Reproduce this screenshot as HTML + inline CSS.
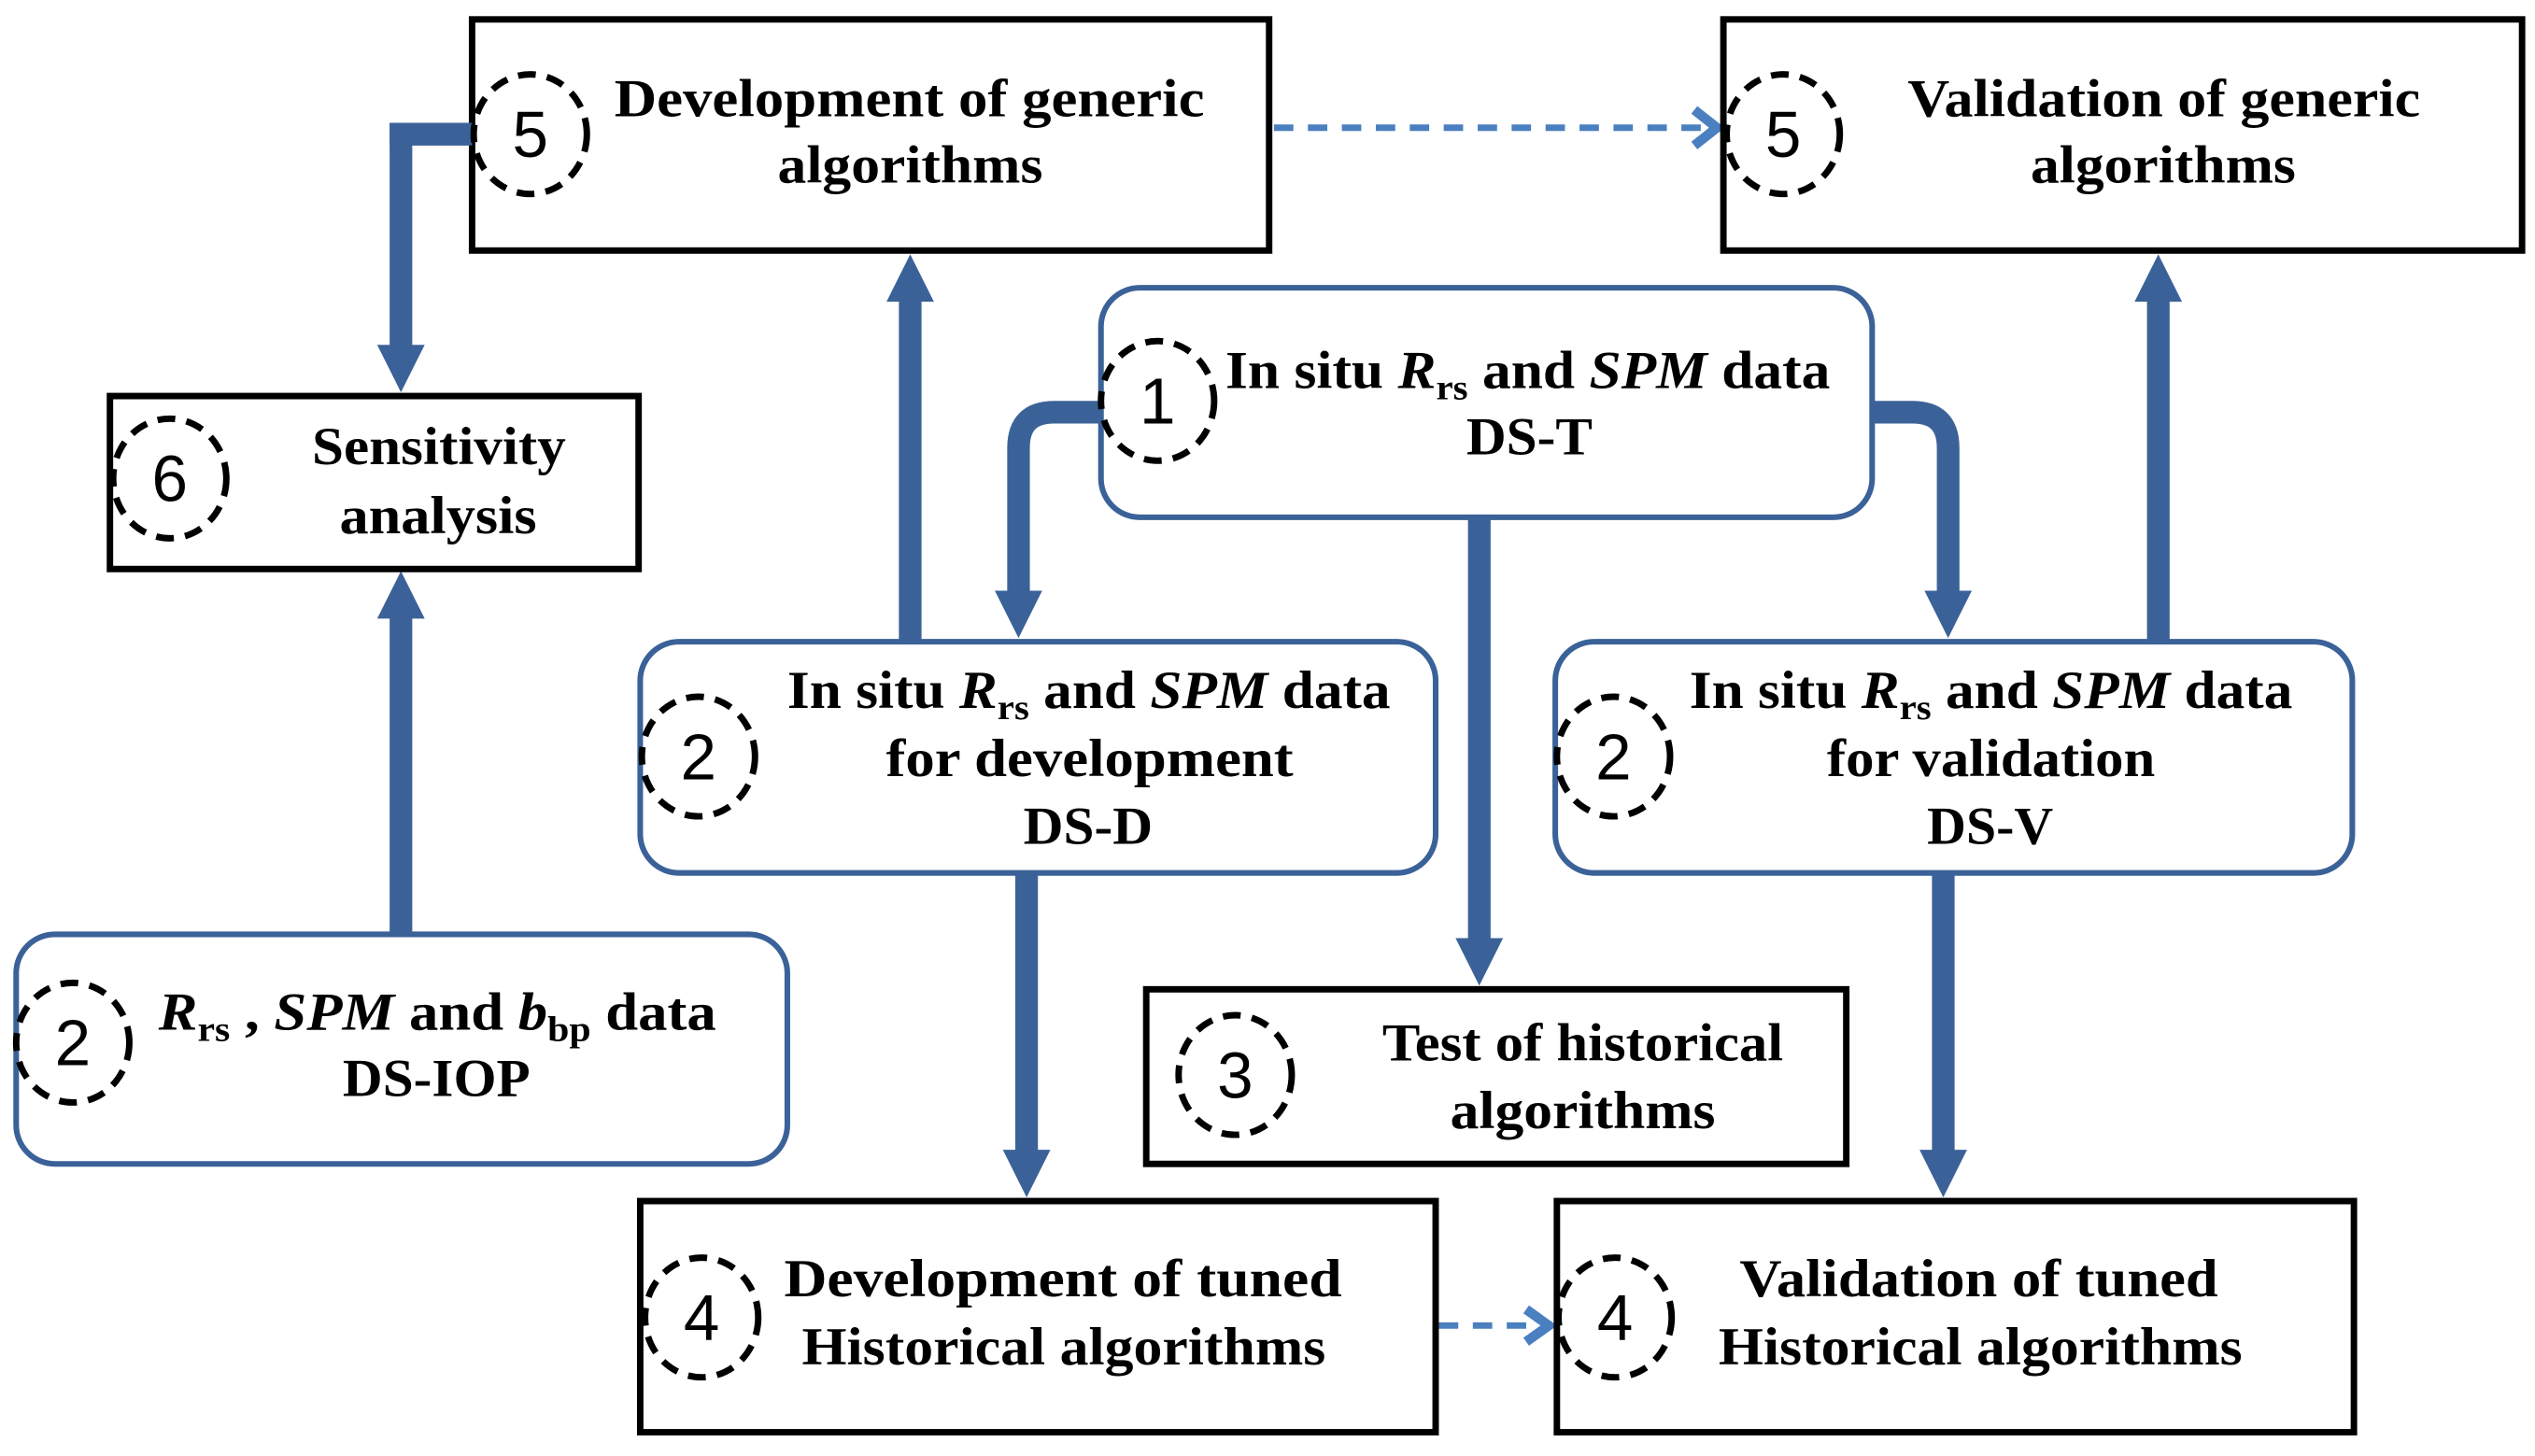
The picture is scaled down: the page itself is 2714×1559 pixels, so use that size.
<!DOCTYPE html>
<html><head><meta charset="utf-8"><style>
html,body{margin:0;padding:0;background:#fff;}
svg{display:block;}
text{font-family:"Liberation Serif",serif;font-weight:bold;font-size:33px;fill:#000;}
.n{font-family:"Liberation Sans",sans-serif;font-weight:normal;font-size:40px;}
.i{font-style:italic;}
.s{font-size:22px;}
</style></head><body>
<svg width="2714" height="1559" viewBox="0 0 1568 900.7" preserveAspectRatio="none" xmlns="http://www.w3.org/2000/svg">
<defs>
<marker id="ah" viewBox="0 0 10 10" refX="5" refY="5" markerWidth="2.1" markerHeight="2.1" orient="auto" markerUnits="strokeWidth">
<path d="M0,0 L10,5 L0,10 Z" fill="#3b6298"/>
</marker>
</defs>
<g fill="none" stroke="#3b6298" stroke-width="14">
<path d="M295,83 H248 V228" marker-end="url(#ah)" stroke-linejoin="miter"/>
<path d="M248,578 V368" marker-end="url(#ah)"/>
<path d="M563,397 V172" marker-end="url(#ah)"/>
<path d="M684,255 H652 Q630,255 630,277 V380" marker-end="url(#ah)"/>
<path d="M1155,255 H1183 Q1205,255 1205,277 V380" marker-end="url(#ah)"/>
<path d="M1335,397 V172" marker-end="url(#ah)"/>
<path d="M915,320 V595" marker-end="url(#ah)"/>
<path d="M635,540 V726" marker-end="url(#ah)"/>
<path d="M1202,540 V726" marker-end="url(#ah)"/>
</g>
<g fill="none" stroke="#4a80c0" stroke-width="4">
<path d="M788,79 H1058" stroke-dasharray="12,9"/>
<path d="M1048,68 L1062,79 L1048,90" stroke-width="6"/>
<path d="M890,820 H952" stroke-dasharray="12,9"/>
<path d="M944,810 L958,820 L944,830" stroke-width="6"/>
</g>
<g fill="#fff" stroke="#000" stroke-width="4">
<rect x="292" y="12" width="493" height="143"/>
<rect x="1066" y="12" width="494" height="143"/>
<rect x="68" y="245" width="327" height="107"/>
<rect x="709" y="612" width="433" height="108"/>
<rect x="396" y="743" width="492" height="143"/>
<rect x="963" y="743" width="493" height="143"/>
</g>
<g fill="#fff" stroke="#3b6298" stroke-width="3.5">
<rect x="681" y="178" width="477" height="142" rx="24"/>
<rect x="396" y="397" width="492" height="143" rx="24"/>
<rect x="962" y="397" width="493" height="143" rx="24"/>
<rect x="10" y="578" width="477" height="142" rx="24"/>
</g>
<g fill="#3b6298">
<rect x="241" y="76" width="51" height="14"/>
</g>
<g fill="none" stroke="#000" stroke-width="4" stroke-dasharray="11,7">
<ellipse cx="328" cy="83" rx="35" ry="37"/>
<ellipse cx="1103" cy="83" rx="35" ry="37"/>
<ellipse cx="105" cy="296" rx="35" ry="37"/>
<ellipse cx="716" cy="248" rx="35" ry="37"/>
<ellipse cx="432" cy="468" rx="35" ry="37"/>
<ellipse cx="998" cy="468" rx="35" ry="37"/>
<ellipse cx="45" cy="645" rx="35" ry="37"/>
<ellipse cx="764" cy="665" rx="35" ry="37"/>
<ellipse cx="434" cy="815" rx="35" ry="37"/>
<ellipse cx="999" cy="815" rx="35" ry="37"/>
</g>
<g>
<text class="n" x="328" y="97" text-anchor="middle">5</text>
<text class="n" x="1103" y="97" text-anchor="middle">5</text>
<text class="n" x="105" y="310" text-anchor="middle">6</text>
<text class="n" x="716" y="262" text-anchor="middle">1</text>
<text class="n" x="432" y="482" text-anchor="middle">2</text>
<text class="n" x="998" y="482" text-anchor="middle">2</text>
<text class="n" x="45" y="659" text-anchor="middle">2</text>
<text class="n" x="764" y="679" text-anchor="middle">3</text>
<text class="n" x="434" y="829" text-anchor="middle">4</text>
<text class="n" x="999" y="829" text-anchor="middle">4</text>
</g>
<text x="380" y="72" textLength="365" lengthAdjust="spacingAndGlyphs">Development of generic</text>
<text x="481" y="113" textLength="164" lengthAdjust="spacingAndGlyphs">algorithms</text>
<text x="1180" y="72" textLength="317" lengthAdjust="spacingAndGlyphs">Validation of generic</text>
<text x="1256" y="113" textLength="164" lengthAdjust="spacingAndGlyphs">algorithms</text>
<text x="193" y="287" textLength="157" lengthAdjust="spacingAndGlyphs">Sensitivity</text>
<text x="210" y="330" textLength="122" lengthAdjust="spacingAndGlyphs">analysis</text>

<text x="758" y="240" textLength="374" lengthAdjust="spacingAndGlyphs">In situ <tspan class="i">R</tspan><tspan class="s" dy="7">rs</tspan><tspan dy="-7"> and </tspan><tspan class="i">SPM</tspan> data</text>
<text x="907" y="281" textLength="78" lengthAdjust="spacingAndGlyphs">DS-T</text>

<text x="487" y="438" textLength="373" lengthAdjust="spacingAndGlyphs">In situ <tspan class="i">R</tspan><tspan class="s" dy="7">rs</tspan><tspan dy="-7"> and </tspan><tspan class="i">SPM</tspan> data</text>
<text x="548" y="480" textLength="252" lengthAdjust="spacingAndGlyphs">for development</text>
<text x="633" y="522" textLength="80" lengthAdjust="spacingAndGlyphs">DS-D</text>

<text x="1045" y="438" textLength="373" lengthAdjust="spacingAndGlyphs">In situ <tspan class="i">R</tspan><tspan class="s" dy="7">rs</tspan><tspan dy="-7"> and </tspan><tspan class="i">SPM</tspan> data</text>
<text x="1130" y="480" textLength="203" lengthAdjust="spacingAndGlyphs">for validation</text>
<text x="1192" y="522" textLength="78" lengthAdjust="spacingAndGlyphs">DS-V</text>

<text x="98" y="637" textLength="345" lengthAdjust="spacingAndGlyphs"><tspan class="i">R</tspan><tspan class="s" dy="7">rs</tspan><tspan dy="-7"> , </tspan><tspan class="i">SPM</tspan> and <tspan class="i">b</tspan><tspan class="s" dy="7">bp</tspan><tspan dy="-7">  data</tspan></text>
<text x="212" y="678" textLength="116" lengthAdjust="spacingAndGlyphs">DS-IOP</text>

<text x="855" y="656" textLength="248" lengthAdjust="spacingAndGlyphs">Test of historical</text>
<text x="897" y="698" textLength="164" lengthAdjust="spacingAndGlyphs">algorithms</text>

<text x="485" y="802" textLength="345" lengthAdjust="spacingAndGlyphs">Development of tuned</text>
<text x="496" y="844" textLength="324" lengthAdjust="spacingAndGlyphs">Historical algorithms</text>
<text x="1076" y="802" textLength="296" lengthAdjust="spacingAndGlyphs">Validation of tuned</text>
<text x="1063" y="844" textLength="324" lengthAdjust="spacingAndGlyphs">Historical algorithms</text>
</svg>
</body></html>
